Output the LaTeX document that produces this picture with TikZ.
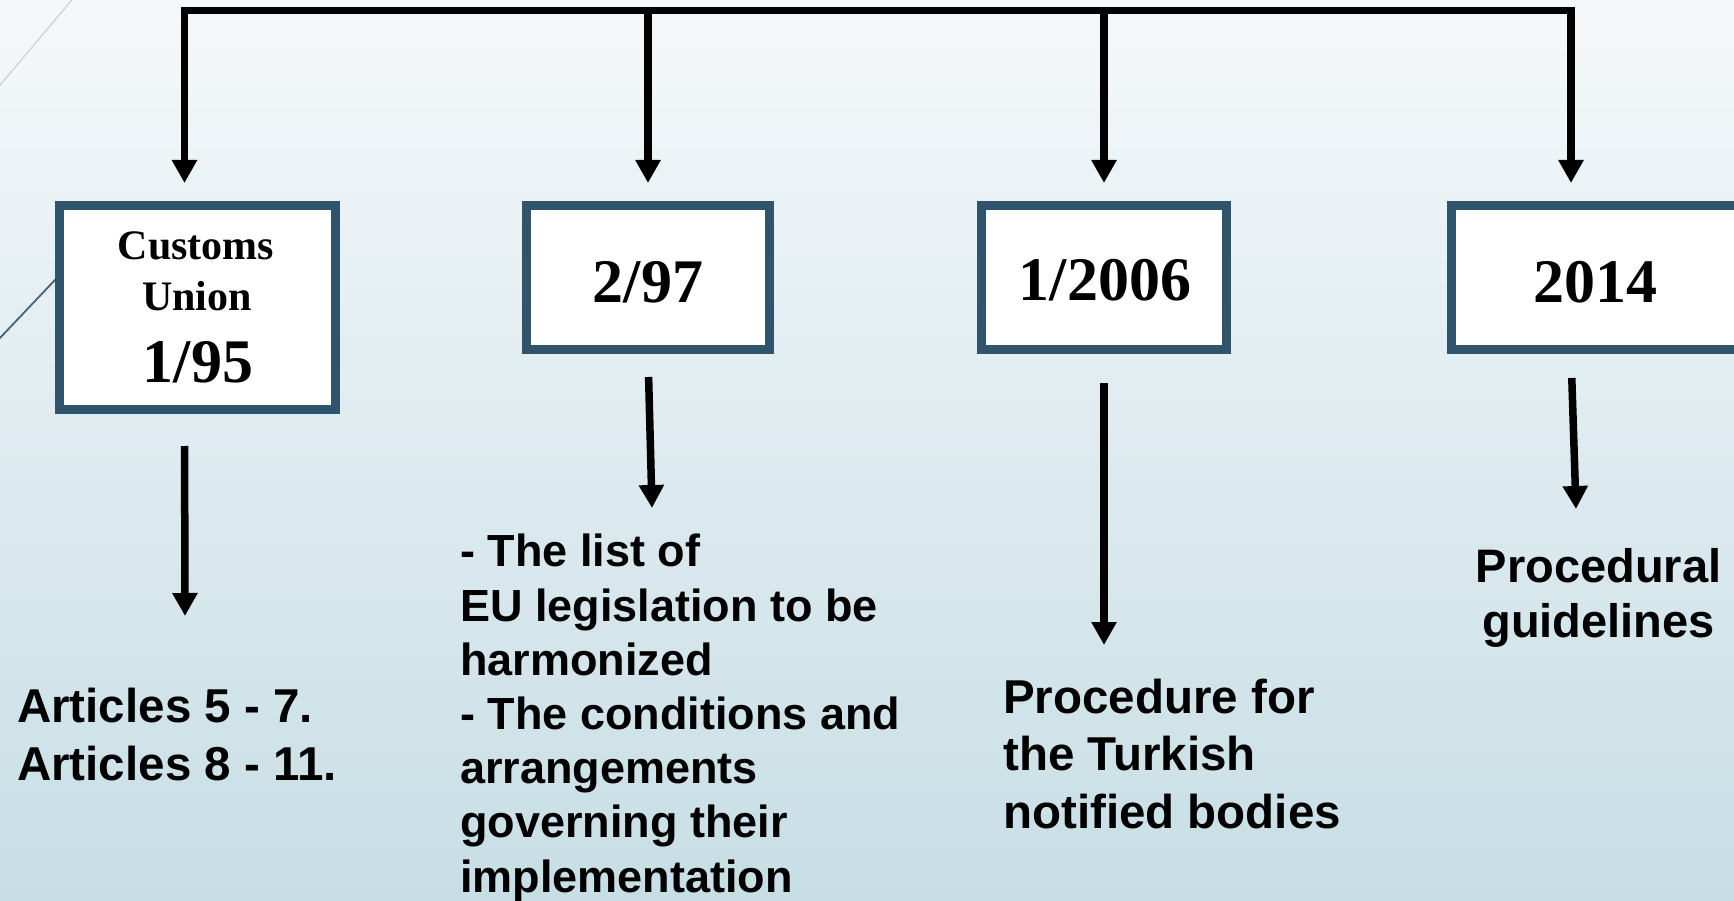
\documentclass[tikz,border=0pt]{standalone}
\usepackage{fontspec}
\setmainfont{Liberation Serif}
\setsansfont{Liberation Sans}
\usetikzlibrary{arrows.meta}

\definecolor{boxblue}{RGB}{48,84,107}
\definecolor{bgtop}{RGB}{245,248,250}
\definecolor{bgbottom}{RGB}{199,222,229}
\definecolor{themeline}{RGB}{200,210,218}

\tikzset{
	datebox/.style={draw=boxblue, line width=8pt, fill=white, inner sep=0pt},
	datetext/.style={font=\rmfamily\bfseries\fontsize{62pt}{70pt}\selectfont, inner sep=0pt, anchor=base},
	boxword/.style={font=\rmfamily\bfseries\fontsize{42pt}{50pt}\selectfont, inner sep=0pt, anchor=base},
	note/.style 2 args={font=\sffamily\bfseries\fontsize{#1}{#2}\selectfont, inner sep=0pt, align=left, anchor=base west},
	arr/.style={line width=7.5pt, -{Triangle[length=23pt,width=24pt]}},
}

\begin{document}
\begin{tikzpicture}[x=1pt,y=-1pt]
			\clip (0,0) rectangle (1734,901);
			%%%	Background
			\shade[top color=bgtop, bottom color=bgbottom] (0,0) rectangle (1734,901);
			\draw[themeline, line width=1.2pt] (-10,97) -- (82,-12);
			\draw[boxblue!90, line width=1.8pt] (-10,348.5) -- (80,253.6);
			%%%	Boxes
			\node[datebox, minimum width=277pt, minimum height=205pt] (b1) at (197.5,307.5) {};
			\node[datebox, minimum width=244pt, minimum height=145pt] (b2) at (648,277.5) {};
			\node[datebox, minimum width=246pt, minimum height=145pt] (b3) at (1104,277.5) {};
			\node[datebox, minimum width=290pt, minimum height=145pt] (b4) at (1596,277.5) {};
			\foreach \bx in {b1,b2,b3,b4}
			\draw[boxblue, line width=1.6pt] ([xshift=8.5pt,yshift=-8.5pt]\bx.north west) rectangle ([xshift=-8.5pt,yshift=8.5pt]\bx.south east);
			\node[boxword] (cu1) at (196,260) {Customs};
			\node[boxword] (cu2) at (197,310) {Union};
			\node[datetext] (d1) at (198,382) {1/95};
			\node[datetext] (d2) at (648,302) {2/97};
			\node[datetext] (d3) at (1105,301) {1/2006};
			\node[datetext] (d4) at (1595.5,302) {2014};
			%%%	Top bar
			\coordinate (t1) at (184.5,10.5);
			\coordinate (t2) at (648,10.5);
			\coordinate (t3) at (1104,10.5);
			\coordinate (t4) at (1571,10.5);
			\draw[line width=7pt, line cap=rect] (t1) -- (t4);
			\foreach \i in {1,...,4}
			\draw[arr, shorten >=18pt] (t\i) -- (t\i |- b\i.north);
			%%%	Notes (base = last line)
			\node[note={47.5pt}{58pt}] (n1) at (17,780) {Articles 5 - 7.\\Articles 8 - 11.};
			\node[note={45pt}{54.2pt}] (n2) at (460,892) {- The list of\\EU legislation to be\\harmonized\\- The conditions and\\arrangements\\governing their\\implementation};
			\node[note={47.5pt}{57.5pt}] (n3) at (1003,828) {Procedure for\\the Turkish\\notified bodies};
			\node[note={47pt}{55pt}, align=center, anchor=base] (n4) at (1598.5,637) {Procedural\\guidelines};
			%%%	Lower arrows
			\coordinate (e1) at (185,616);
			\coordinate (e2) at (652,508);
			\coordinate (e3) at (1104,645);
			\coordinate (e4) at (1576,509);
			\draw[arr, shorten <=32pt] (t1 |- b1.south) -- (e1);
			\draw[arr, shorten <=23pt] (b2.south) -- (e2);
			\draw[arr, shorten <=29pt] (b3.south) -- (e3);
			\draw[arr, shorten <=24pt] (t4 |- b4.south) -- (e4);
		\end{tikzpicture}
\end{document}
